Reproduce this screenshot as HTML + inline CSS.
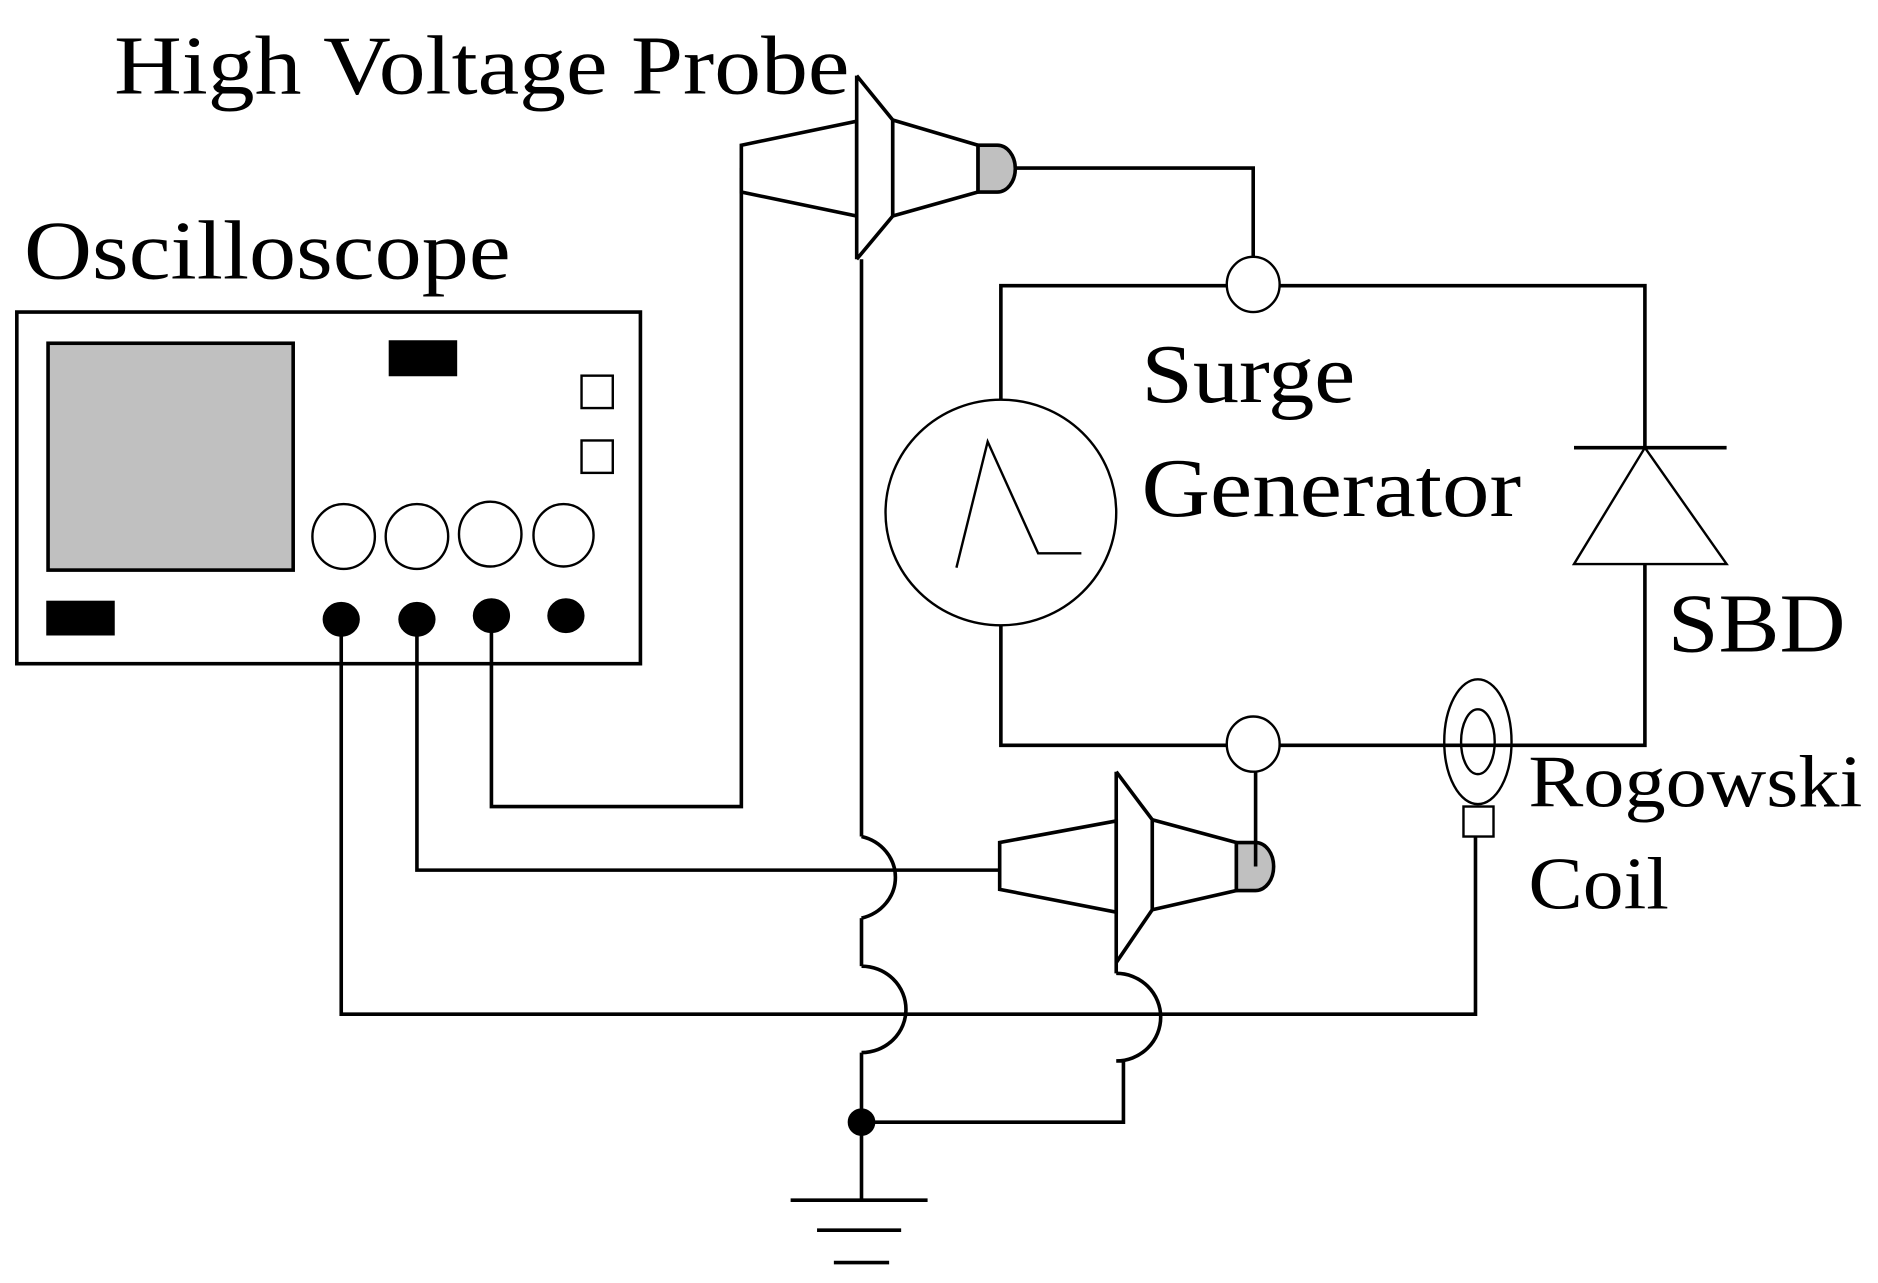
<!DOCTYPE html>
<html><head><meta charset="utf-8"><style>html,body{margin:0;padding:0;background:#fff}svg{display:block}text{font-family:"Liberation Serif","Times New Roman",serif}</style></head>
<body>
<svg width="1878" height="1283" viewBox="0 0 1563 1069" preserveAspectRatio="none" xmlns="http://www.w3.org/2000/svg">
<g fill="#000" style="font-family:'Liberation Serif',serif">
<text x="95" y="78" font-size="70" textLength="612" lengthAdjust="spacingAndGlyphs">High  Voltage Probe</text>
<text x="20" y="232" font-size="70" textLength="405" lengthAdjust="spacingAndGlyphs">Oscilloscope</text>
<text x="950" y="335" font-size="70" textLength="178" lengthAdjust="spacingAndGlyphs">Surge</text>
<text x="950" y="430" font-size="70" textLength="316" lengthAdjust="spacingAndGlyphs">Generator</text>
<text x="1388" y="543" font-size="70" textLength="148" lengthAdjust="spacingAndGlyphs">SBD</text>
<text x="1272" y="672" font-size="62" textLength="278" lengthAdjust="spacingAndGlyphs">Rogowski</text>
<text x="1272" y="757" font-size="62" textLength="117" lengthAdjust="spacingAndGlyphs">Coil</text>
</g>
<g fill="none" stroke="#000" stroke-width="3">
<rect x="14" y="260" width="519" height="293"/>
<rect x="40" y="286" width="204" height="189" fill="#c0c0c0"/>
<rect x="325" y="285" width="54" height="27" fill="#000"/>
<rect x="40" y="502" width="54" height="26" fill="#000"/>
<rect x="484" y="313" width="26" height="27" stroke-width="2"/>
<rect x="484" y="367" width="26" height="27" stroke-width="2"/>
<ellipse cx="286" cy="447" rx="26" ry="27" stroke-width="2"/>
<ellipse cx="347" cy="447" rx="26" ry="27" stroke-width="2"/>
<ellipse cx="408" cy="445" rx="26" ry="27" stroke-width="2"/>
<ellipse cx="469" cy="446" rx="25" ry="26" stroke-width="2"/>
<ellipse cx="284" cy="516" rx="14" ry="13" fill="#000"/>
<ellipse cx="347" cy="516" rx="14" ry="13" fill="#000"/>
<ellipse cx="409" cy="513" rx="14" ry="13" fill="#000"/>
<ellipse cx="471" cy="513" rx="14" ry="13" fill="#000"/>
<polyline points="409,513 409,672 617,672 617,140"/>
<polyline points="347,516 347,725 832,725"/>
<polyline points="284,516 284,845 1228,845 1228,697"/>
<polygon points="617,121 713,101 713,180 617,160" fill="#fff"/>
<polyline points="713,63 713,216"/>
<polyline points="713,63 743,100 743,180 713,216"/>
<polygon points="743,100 814,121 814,160 743,180" fill="#fff"/>
<path d="M814,121 L830,121 A15,19.5 0 0 1 830,160 L814,160 Z" fill="#c0c0c0"/>
<polyline points="845,140 1043,140 1043,215"/>
<polyline points="717,216 717,697"/>
<path d="M717,697 A37,35 0 0 1 717,765"/>
<polyline points="717,765 717,805"/>
<path d="M717,805 A37,36 0 0 1 717,877"/>
<polyline points="717,877 717,1000"/>
<circle cx="717" cy="935" r="10" fill="#000"/>
<polyline points="717,935 935,935 935,884"/>
<path d="M929,811 A37,36.5 0 0 1 929,884 L935,884"/>
<line x1="658" y1="1000" x2="772" y2="1000"/>
<line x1="680" y1="1025" x2="750" y2="1025"/>
<line x1="694" y1="1052" x2="740" y2="1052"/>
<polygon points="832,702 929,684 929,760 832,741" fill="#fff"/>
<polyline points="929,643 929,811"/>
<polyline points="929,643 959,683 959,758 929,802"/>
<polygon points="959,683 1029,702 1029,742 959,758" fill="#fff"/>
<path d="M1029,702 L1045,702 A15,20 0 0 1 1045,742 L1029,742 Z" fill="#c0c0c0"/>
<polyline points="1045,722 1045,642"/>
<polyline points="833,333 833,238 1021,238"/>
<polyline points="1065,238 1369,238 1369,373"/>
<ellipse cx="1043" cy="237" rx="22" ry="23" stroke-width="2"/>
<ellipse cx="833" cy="427" rx="96" ry="94" stroke-width="2"/>
<polyline points="796,473 822,368 864,461 900,461" stroke-width="2"/>
<polyline points="833,521 833,621 1021,621"/>
<ellipse cx="1043" cy="620" rx="22" ry="23" stroke-width="2"/>
<polyline points="1065,621 1369,621 1369,470"/>
<line x1="1310" y1="373" x2="1437" y2="373"/>
<polygon points="1310,470 1437,470 1369,373" fill="#fff" stroke-width="2"/>
<ellipse cx="1230" cy="618" rx="28" ry="52" fill="#fff" stroke-width="2"/>
<ellipse cx="1230" cy="618" rx="14" ry="27" stroke-width="2"/>
<line x1="1202" y1="621" x2="1258" y2="621"/>
<rect x="1218" y="672" width="25" height="25" fill="#fff" stroke-width="2"/>
</g>
</svg>
</body></html>
